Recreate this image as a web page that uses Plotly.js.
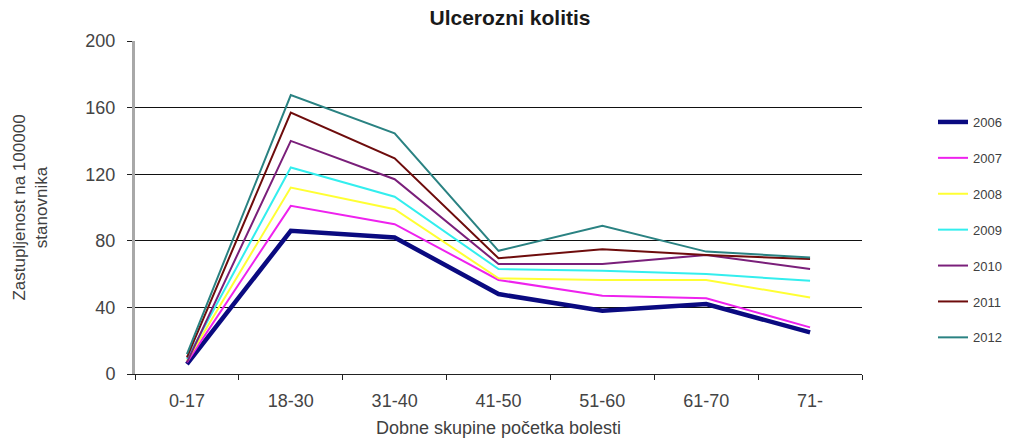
<!DOCTYPE html>
<html>
<head>
<meta charset="utf-8">
<script src="https://cdn.plot.ly/plotly-3.0.1.min.js"></script>
<style>html,body{margin:0;padding:0;background:#fff;}#chart{width:1015px;height:439px;}</style>
</head>
<body>
<div id="chart"></div>
<script>
const categories = ["0-17", "18-30", "31-40", "41-50", "51-60", "61-70", "71-"];
const years = ["2006", "2007", "2008", "2009", "2010", "2011", "2012"];
const v2006 = [6, 86, 82, 48, 38, 42, 25];
const v2007 = [7, 101, 90, 56.5, 47, 45.5, 28];
const v2008 = [8, 112, 99, 57.5, 56.5, 56.5, 46];
const v2009 = [9, 124, 106.5, 63, 62, 60, 56];
const v2010 = [7, 140, 117, 66, 66, 71.5, 63];
const v2011 = [10, 157, 129.5, 69.5, 75, 71.5, 69];
const v2012 = [12, 167.5, 144.5, 74, 89, 73.5, 70];
const series = [v2006, v2007, v2008, v2009, v2010, v2011, v2012];
const colors = ["#0a0a80", "#ee22ee", "#ffff33", "#33eeee", "#7a1f7a", "#6e0c0c", "#2a8282"];
const widths = [4.5, 2, 2, 2, 2, 2, 2];

const traces = series.map((vals, i) => ({
  type: "scatter",
  mode: "lines",
  x: categories,
  y: vals,
  name: years[i],
  legendgroup: "g" + i,
  line: {color: colors[i], width: widths[i]}
}));

const font = "Liberation Sans, Arial, sans-serif";
const layout = {
  width: 1015,
  height: 439,
  margin: {l: 135, r: 153, t: 41, b: 65, autoexpand: false},
  paper_bgcolor: "#fff",
  plot_bgcolor: "#fff",
  font: {family: font, color: "#404040"},
  title: {
    text: "<b>Ulcerozni kolitis</b>",
    font: {family: font, size: 21, color: "#1a1a1a"},
    x: 510 / 1015, xanchor: "center",
    y: 1 - 18 / 439, yanchor: "middle"
  },
  xaxis: {
    type: "category",
    range: [-0.5, 6.5],
    showline: true, linecolor: "#222", linewidth: 1,
    ticks: "outside", tickson: "boundaries", ticklen: 5, tickcolor: "#222",
    showgrid: false,
    tickfont: {family: font, size: 18, color: "#444"},
    ticklabelstandoff: 10,
    title: {text: "Dobne skupine početka bolesti", font: {family: font, size: 18, color: "#404040"}, standoff: 11}
  },
  yaxis: {
    range: [0, 200],
    dtick: 40,
    showline: true, linecolor: "#a8a8a8", linewidth: 3,
    ticks: "outside", ticklen: 5, tickcolor: "#222",
    showgrid: true, gridcolor: "#111", gridwidth: 1,
    zeroline: false,
    tickfont: {family: font, size: 18, color: "#444"},
    ticklabelstandoff: 8,
    title: {text: "Zastupljenost na 100000<br>stanovnika", font: {family: font, size: 17, color: "#404040"}, standoff: 34}
  },
  legend: {
    x: (933 - 135) / 727, xanchor: "left",
    y: 1 - (107 - 41) / 333, yanchor: "top",
    traceorder: "grouped",
    tracegroupgap: 16,
    font: {family: font, size: 13, color: "#404040"},
    bgcolor: "rgba(0,0,0,0)"
  },
  showlegend: true
};

Plotly.newPlot("chart", traces, layout, {displayModeBar: false, staticPlot: true});
</script>
</body>
</html>
